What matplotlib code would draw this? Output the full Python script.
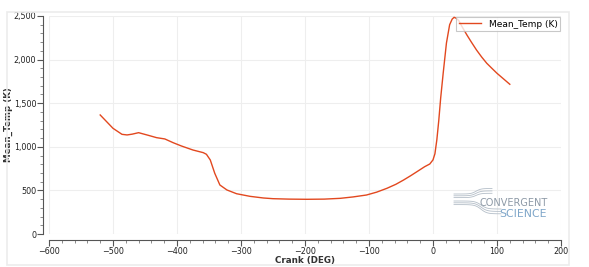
import numpy as np
import matplotlib.pyplot as plt
from matplotlib.ticker import MultipleLocator, FuncFormatter
from matplotlib.patches import Rectangle

# Crank angle (deg) and mean temperature (K)
crank = [-520, -500, -486, -478, -470, -460, -445, -432, -419, -406, -393,
         -375, -359, -354, -348, -341, -333, -322, -307, -286, -265, -250,
         -225, -197, -170, -145, -125, -104, -88, -72, -58, -46, -35, -25,
         -13, -5, 0, 3, 6, 9, 12, 16, 21, 26, 30, 33, 36, 40, 46, 53, 60,
         68, 76, 84, 92, 100, 110, 120]
temp = [1365, 1212, 1143, 1136, 1145, 1162, 1132, 1105, 1090, 1047, 1009,
        963, 933, 914, 849, 696, 562, 505, 462, 432, 413, 405,
        400, 398, 400, 409, 425, 447, 480, 524, 570, 619, 668, 715,
        772, 803, 850, 920, 1080, 1300, 1560, 1850, 2190, 2400, 2465, 2485,
        2475, 2450, 2370, 2282, 2200, 2110, 2030, 1958, 1900, 1843, 1780, 1717]

series_name = 'Mean_Temp (K)'
line_color = '#e2481f'

W, H = 589, 267
fig = plt.figure(figsize=(W / 100, H / 100), dpi=100)
ax = fig.add_axes([49/W, 33/H, 512/W, 218/H])

# faint panel frame around the whole chart
fig.patches.append(Rectangle((7/W, 2/H), 562/W, 253/H, transform=fig.transFigure,
                             fill=False, edgecolor='#ececec', linewidth=1.2))

ax.plot(crank, temp, color=line_color, linewidth=1.0, label=series_name)

ax.set_xlim(-600, 200)
ax.set_ylim(0, 2500)
ax.xaxis.set_major_locator(MultipleLocator(100))
ax.xaxis.set_minor_locator(MultipleLocator(20))
ax.yaxis.set_major_locator(MultipleLocator(500))
ax.yaxis.set_minor_locator(MultipleLocator(100))
ax.yaxis.set_major_formatter(FuncFormatter(lambda v, p: f'{int(v):,}'))

ax.grid(True, which='major', color='#eeeeee', linewidth=0.8)
ax.set_axisbelow(True)

for s in ['top', 'right']:
    ax.spines[s].set_visible(False)
ax.spines['left'].set_position(('outward', 4))
ax.spines['bottom'].set_position(('outward', 4))
ax.spines['left'].set_color('#555555')
ax.spines['bottom'].set_color('#555555')

ax.tick_params(which='major', length=4, width=0.8, color='#555555', labelsize=5.8,
               labelcolor='#222222', pad=1.2)
ax.tick_params(which='minor', length=2, width=0.6, color='#777777')

ax.set_xlabel('Crank (DEG)', fontsize=6.3, fontweight='bold', color='#333333')
ax.set_ylabel('Mean_Temp (K)', fontsize=6.3, fontweight='bold', color='#333333')
ax.xaxis.set_label_coords(0.5, -21.5/218)
ax.yaxis.set_label_coords(-36/512, 0.5)

leg = ax.legend(loc='upper right', fontsize=6.5, frameon=True, fancybox=False,
                handlelength=2.5, borderpad=0.3, borderaxespad=0.1)
leg.get_frame().set_edgecolor('#bbbbbb')
leg.get_frame().set_linewidth(0.8)

# watermark logo: bundles of lines flaring out like a horn
logo = '#b4bec8'
for i in range(3):
    xs = np.linspace(454, 492, 60)
    ys = 194 + 1.8 * i - (5.5 - 0.6 * i) / (1 + np.exp(-(xs - 476) / 2.5))
    fig.lines.append(plt.Line2D(xs / W, 1 - ys / H, transform=fig.transFigure,
                                color=logo, linewidth=0.6))
    xs = np.linspace(454, 501, 60)
    ys = 201 + 1.8 * i + (8 + 0.6 * i) / (1 + np.exp(-(xs - 481) / 3))
    fig.lines.append(plt.Line2D(xs / W, 1 - ys / H, transform=fig.transFigure,
                                color=logo, linewidth=0.6))
fig.text(513.5/W, 1 - 203.5/H, 'CONVERGENT', fontsize=7, color='#8d99a6',
         ha='center', va='center')
fig.text(523.5/W, 1 - 214/H, 'SCIENCE', fontsize=7.8, color='#7fa6c9',
         ha='center', va='center')

fig.savefig('out.png', dpi=100)
